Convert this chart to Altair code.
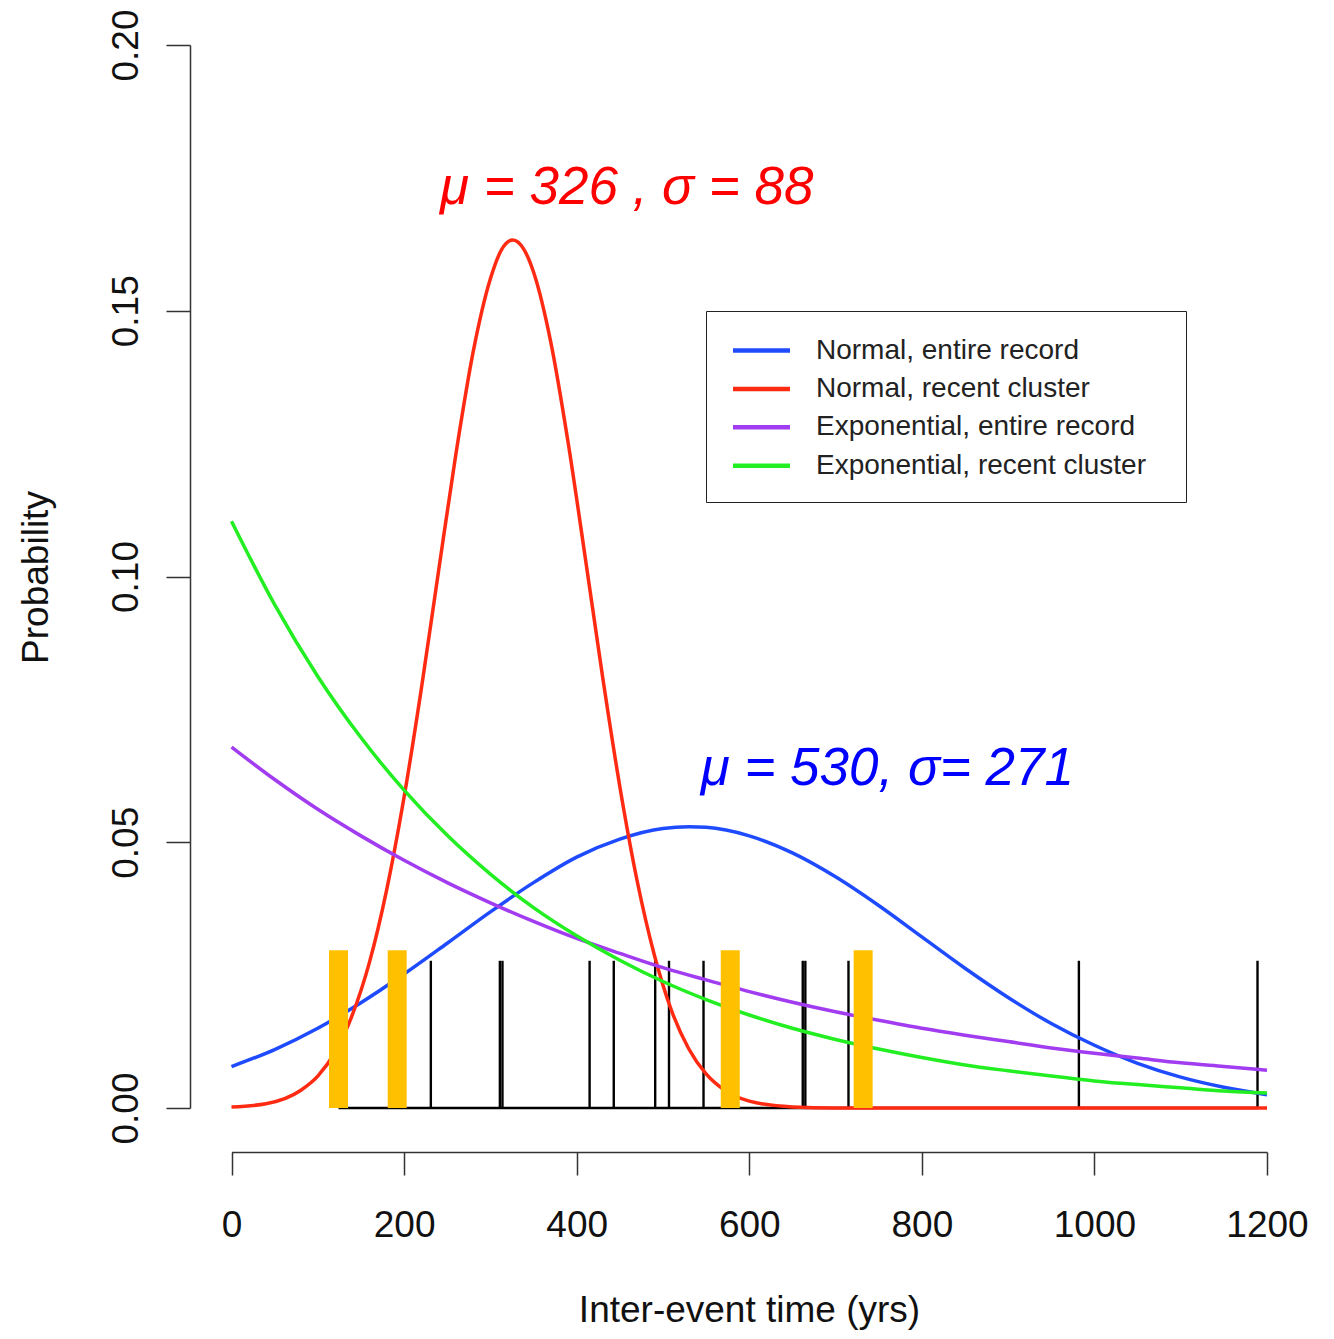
import altair as alt
import pandas as pd

# ---- data ----
series_names = ["Normal, entire record", "Normal, recent cluster",
                "Exponential, entire record", "Exponential, recent cluster"]
series_colors = ["#1f4bff", "#ff2a12", "#a23cf0", "#22ee22"]

blue_t = [0, 50, 100, 150, 200, 250, 300, 350, 400, 450, 500, 530, 550, 600, 650,
          700, 750, 800, 850, 900, 950, 1000, 1050, 1100, 1150, 1200]
blue_p = [0.0078, 0.0110, 0.0150, 0.0198, 0.0252, 0.0310, 0.0369, 0.0424, 0.0472,
          0.0506, 0.0526, 0.0529, 0.0528, 0.0512, 0.0480, 0.0435, 0.0381, 0.0322,
          0.0263, 0.0208, 0.0159, 0.0118, 0.0084, 0.0058, 0.0039, 0.0025]

red_t = [0, 40, 80, 100, 120, 140, 160, 180, 200, 220, 240, 260, 280, 300, 313, 326,
         339, 350, 370, 390, 410, 430, 450, 470, 490, 510, 530, 550, 570, 600, 650,
         700, 800, 900, 1000, 1100, 1200]
red_p = [0.0002, 0.0008, 0.0033, 0.0060, 0.0105, 0.0175, 0.0275, 0.0412, 0.0585,
         0.0789, 0.1011, 0.1230, 0.1422, 0.1560, 0.1615, 0.1633, 0.1615, 0.1573,
         0.1441, 0.1253, 0.1035, 0.0812, 0.0605, 0.0428, 0.0288, 0.0183, 0.0111,
         0.0064, 0.0035, 0.0013, 0.0002, 0.0, 0.0, 0.0, 0.0, 0.0, 0.0]

exp_t = [0, 50, 100, 150, 200, 250, 300, 350, 400, 450, 500, 550, 600, 650, 700,
         750, 800, 850, 900, 950, 1000, 1050, 1100, 1150, 1200]
purple_p = [0.0679, 0.0618, 0.0562, 0.0512, 0.0466, 0.0424, 0.0386, 0.0351, 0.0319,
            0.0291, 0.0264, 0.0241, 0.0219, 0.0199, 0.0181, 0.0165, 0.0150, 0.0137,
            0.0125, 0.0113, 0.0103, 0.0094, 0.0085, 0.0078, 0.0071]
green_p = [0.1104, 0.0947, 0.0812, 0.0697, 0.0598, 0.0513, 0.0440, 0.0377, 0.0324,
           0.0278, 0.0238, 0.0204, 0.0175, 0.0150, 0.0129, 0.0111, 0.0095, 0.0081,
           0.0070, 0.0060, 0.0051, 0.0044, 0.0038, 0.0032, 0.0028]

event_t = [231, 311, 314, 415, 443, 491, 507, 547, 662, 665, 715, 982, 1189]
event_h = 0.0277
recent_t = [124, 192, 578, 732]
recent_h = 0.0297

notes_text = ["μ = 326 , σ = 88", "μ = 530, σ= 271"]
notes_t = [458, 760]
notes_p = [0.170, 0.0608]
notes_color = ["#ff0000", "#0000ff"]

x_ticks = [0, 200, 400, 600, 800, 1000, 1200]
y_ticks = [0.0, 0.05, 0.10, 0.15, 0.20]

# ---- tables ----
rows = []
for name, ts, ps in [(series_names[0], blue_t, blue_p), (series_names[1], red_t, red_p),
                     (series_names[2], exp_t, purple_p), (series_names[3], exp_t, green_p)]:
    for t, p in zip(ts, ps):
        rows.append({"series": name, "t": t, "p": p})
curves = pd.DataFrame(rows)
events = pd.DataFrame({"t": event_t, "p0": 0.0, "p1": event_h})
recent = pd.DataFrame({"t": recent_t, "p0": 0.0, "p1": recent_h})
base = pd.DataFrame({"t0": [min(recent_t + event_t)], "t1": [max(recent_t + event_t)], "p": [0.0]})
notes = pd.DataFrame({"txt": notes_text, "t": notes_t, "p": notes_p, "c": notes_color})

FONT = "Liberation Sans"
AX = "#333333"

xs = alt.Scale(domain=[0, 1200], range=[41.5, 1077], nice=False, zero=False)
ys = alt.Scale(domain=[0, 0.2], range=[1100, 37], nice=False, zero=False)

x_axis = alt.Axis(values=x_ticks, format="d", title="Inter-event time (yrs)",
                  offset=1.5, tickSize=23, tickWidth=1.5, tickColor=AX,
                  domainColor=AX, domainWidth=1.5, grid=False,
                  labelFont=FONT, labelFontSize=37, labelColor="#111111",
                  labelBaseline="alphabetic", labelPadding=61, labelFlush=False,
                  labelOverlap=False,
                  titleFont=FONT, titleFontSize=37, titleFontWeight="normal",
                  titleColor="#111111", titleX=559, titleY=169,
                  titleBaseline="alphabetic", titleAlign="center")
y_axis = alt.Axis(values=y_ticks, format=".2f", title="Probability",
                  tickSize=24, tickWidth=1.5, tickColor=AX,
                  domainColor=AX, domainWidth=1.5, grid=False,
                  labelFont=FONT, labelFontSize=37, labelColor="#111111",
                  labelAngle=270, labelAlign="center", labelBaseline="alphabetic",
                  labelPadding=29, labelFlush=False, labelOverlap=False,
                  titleFont=FONT, titleFontSize=37, titleFontWeight="normal",
                  titleColor="#111111", titleAngle=270, titleX=-143, titleY=569,
                  titleBaseline="alphabetic", titleAlign="center")

baseline = alt.Chart(base).mark_rule(color="black", strokeWidth=2.5).encode(
    x=alt.X("t0:Q", scale=xs, axis=x_axis),
    x2="t1:Q",
    y=alt.Y("p:Q", scale=ys, axis=y_axis),
)

ticks = alt.Chart(events).mark_rule(color="black", strokeWidth=2.4).encode(
    x=alt.X("t:Q", scale=xs), y=alt.Y("p0:Q", scale=ys), y2="p1:Q")

lines = alt.Chart(curves).mark_line(strokeWidth=3.5, interpolate="monotone").encode(
    x=alt.X("t:Q", scale=xs),
    y=alt.Y("p:Q", scale=ys),
    color=alt.Color("series:N",
                    scale=alt.Scale(domain=series_names, range=series_colors),
                    sort=series_names,
                    legend=alt.Legend(title="\u00a0", titleOrient="right",
                                      titlePadding=18, titleFontSize=8,
                                      orient="none", legendX=516, legendY=303,
                                      strokeColor="#222222", padding=22,
                                      symbolType="M-1.9,0H1.9", symbolSize=900,
                                      symbolStrokeWidth=4.5, symbolOffset=16,
                                      labelFont=FONT, labelFontSize=28,
                                      labelColor="#222222", labelLimit=0,
                                      labelOffset=37, rowPadding=6.4)),
    detail="series:N",
)

bars = alt.Chart(recent).mark_rule(color="#ffc000", strokeWidth=19).encode(
    x=alt.X("t:Q", scale=xs), y=alt.Y("p0:Q", scale=ys), y2="p1:Q")

labels = alt.Chart(notes).mark_text(font=FONT, fontStyle="italic", fontSize=53,
                                    align="center", baseline="alphabetic").encode(
    x=alt.X("t:Q", scale=xs), y=alt.Y("p:Q", scale=ys),
    text="txt:N", color=alt.Color("c:N", scale=None))

chart = alt.layer(baseline, ticks, lines, bars, labels).properties(
    width=1118.5, height=1142.5,
    autosize=alt.AutoSizeParams(type="none"),
    padding={"left": 182, "top": 0, "right": 16, "bottom": 180},
).configure_view(stroke=None)

chart.save("out.html", embed_options={"renderer": "svg", "actions": False})
